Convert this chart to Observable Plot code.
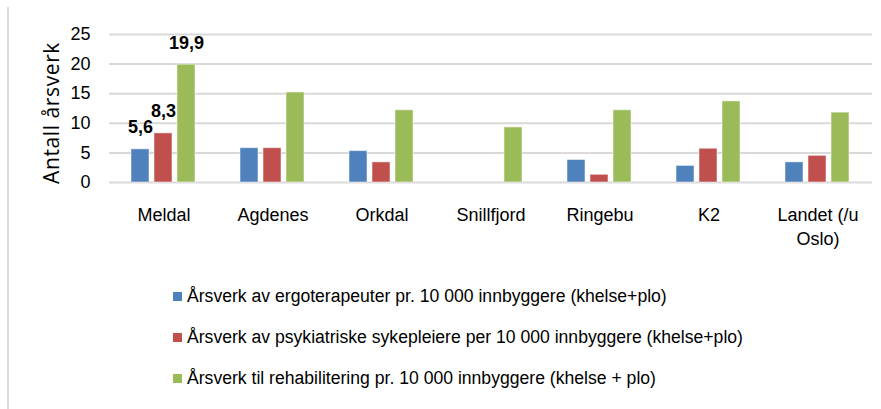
<!DOCTYPE html>
<html><head><meta charset="utf-8">
<script src="https://cdn.jsdelivr.net/npm/d3@7"></script>
<script src="https://cdn.jsdelivr.net/npm/@observablehq/plot@0.6"></script>
<style>
body{margin:0;background:#fff;}
#wrap{position:relative;width:881px;height:409px;overflow:hidden;font-family:"Liberation Sans Narrow","Arial Narrow",sans-serif;}
#border{position:absolute;left:7px;top:7px;width:2px;height:402px;background:#d9d9d9;}
#chart{position:absolute;left:0;top:0;}
#ylab{position:absolute;left:51px;top:113px;transform:translate(-50%,-50%) rotate(-90deg);white-space:nowrap;font-family:"Open Sans",sans-serif;font-size:21px;letter-spacing:0.6px;color:#000;}
#legend{position:absolute;left:173px;top:276px;}
.row{display:flex;align-items:center;height:41px;font-size:17.6px;color:#000;white-space:nowrap;}
.sw{width:9px;height:9px;margin-right:5px;flex:none;}
</style></head><body>
<div id="wrap"><div id="border"></div><div id="chart"></div><div id="ylab"></div><div id="legend"></div></div>
<script>
const categories = ["Meldal","Agdenes","Orkdal","Snillfjord","Ringebu","K2","Landet (/u Oslo)"];
const tickLabels = ["Meldal","Agdenes","Orkdal","Snillfjord","Ringebu","K2","Landet (/u\nOslo)"];
const seriesNames = [
  "Årsverk av ergoterapeuter pr. 10 000 innbyggere (khelse+plo)",
  "Årsverk av psykiatriske sykepleiere per 10 000 innbyggere (khelse+plo)",
  "Årsverk til rehabilitering pr. 10 000 innbyggere (khelse + plo)"
];
const colors = ["#4f81bd","#c0504d","#9bbb59"];
const ergo  = [5.6, 5.8, 5.3, null, 3.8, 2.8, 3.4];
const psyk  = [8.3, 5.8, 3.4, null, 1.3, 5.7, 4.5];
const rehab = [19.9, 15.2, 12.2, 9.3, 12.2, 13.7, 11.8];
const labelledCategories = ["Meldal"];
const yTicks = [0, 5, 10, 15, 20, 25];
const yLabel = "Antall årsverk";

const seriesValues = [ergo, psyk, rehab];
const data = categories.flatMap((c, i) => seriesValues.map((arr, j) => ({category: c, series: seriesNames[j], value: arr[i]})));
const fmt = v => v.toFixed(1).replace(".", ",");
const font = '"Liberation Sans Narrow","Arial Narrow",sans-serif';

const plot = Plot.plot({
  width: 881, height: 262,
  marginTop: 34, marginBottom: 80, marginLeft: 107, marginRight: 8,
  style: {fontFamily: font, fontSize: "18px", color: "#000", background: "transparent"},
  fx: {domain: categories, padding: 0, label: null},
  x: {domain: seriesNames, paddingInner: 0.21, paddingOuter: 0.95, axis: null},
  y: {domain: [0, 25], label: null},
  color: {domain: seriesNames, range: colors},
  marks: [
    Plot.ruleY(yTicks, {stroke: "#d9d9d9", strokeWidth: 2}),
    Plot.barY(data, {fx: "category", x: "series", y: "value", fill: "series", stroke: "#ffffff", strokeOpacity: 0.5, strokeWidth: 1}),
    Plot.text(data.filter(d => labelledCategories.includes(d.category) && d.value != null), {
      fx: "category", x: "series", y: "value", text: d => fmt(d.value),
      lineAnchor: "bottom", dy: -16, fontWeight: "bold", fontSize: 18, fill: "#000"
    }),
    Plot.axisY({ticks: yTicks, tickSize: 0, tickPadding: 19, fontSize: 18, label: null}),
    Plot.axisFx({anchor: "bottom", tickSize: 0, tickPadding: 22, fontSize: 18, lineHeight: 1.3, label: null,
      tickFormat: d => tickLabels[categories.indexOf(d)]})
  ]
});
document.getElementById("chart").appendChild(plot);
document.getElementById("ylab").textContent = yLabel;

const legend = document.getElementById("legend");
seriesNames.forEach((name, j) => {
  const row = document.createElement("div");
  row.className = "row";
  const sw = document.createElement("span");
  sw.className = "sw";
  sw.style.background = colors[j];
  const t = document.createElement("span");
  t.textContent = name;
  row.appendChild(sw); row.appendChild(t);
  legend.appendChild(row);
});
</script>
</body></html>
